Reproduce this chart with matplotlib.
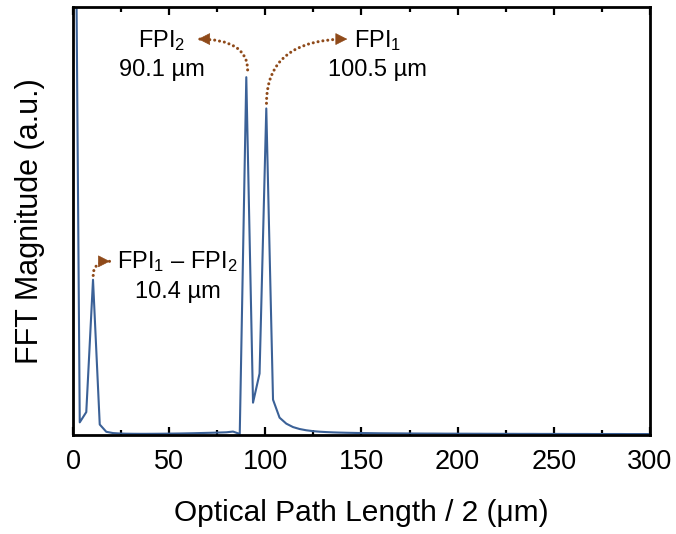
import matplotlib
matplotlib.use("Agg")
import matplotlib.pyplot as plt
from matplotlib.ticker import MultipleLocator

plt.rcParams["font.family"] = ["Liberation Sans", "DejaVu Sans"]
plt.rcParams["mathtext.fontset"] = "custom"
plt.rcParams["mathtext.rm"] = "Liberation Sans"
plt.rcParams["mathtext.it"] = "Liberation Sans:italic"

# FFT bins (optical path length / 2, um)
opl = [0.0, 3.5, 6.9, 10.4, 13.9, 17.3, 20.8, 24.3, 27.7, 31.2,
       34.7, 38.1, 41.6, 45.1, 48.5, 52.0, 55.5, 58.9, 62.4, 65.9,
       69.3, 72.8, 76.3, 79.7, 83.2, 86.7, 90.1, 93.6, 97.0, 100.5,
       104.0, 107.4, 110.9, 114.4, 117.8, 121.3, 124.8, 128.2, 131.7, 135.2,
       138.6, 142.1, 145.6, 149.0, 152.5, 156.0, 159.4, 162.9, 166.4, 169.8,
       173.3, 176.8, 180.2, 183.7, 187.2, 190.6, 194.1, 197.6, 201.0, 204.5,
       208.0, 211.4, 214.9, 218.4, 221.8, 225.3, 228.8, 232.2, 235.7, 239.2,
       242.6, 246.1, 249.6, 253.0, 256.5, 260.0, 263.4, 266.9, 270.4, 273.8,
       277.3, 280.8, 284.2, 287.7, 291.2, 294.6, 298.1, 301.5]

magnitude = [2.1, 0.030, 0.054, 0.363, 0.025, 0.008, 0.005, 0.004, 0.0035, 0.0033,
             0.0032, 0.0032, 0.0033, 0.0034, 0.0036, 0.0038, 0.004, 0.0043, 0.0046, 0.005,
             0.0054, 0.0058, 0.0063, 0.0068, 0.0085, 0.003, 0.836, 0.076, 0.144, 0.763,
             0.083, 0.041, 0.027, 0.019, 0.0145, 0.0115, 0.0095, 0.0082, 0.0073, 0.0066,
             0.0061, 0.0057, 0.0054, 0.0051, 0.0049, 0.0047, 0.0045, 0.0044, 0.0043, 0.0042,
             0.0041, 0.004, 0.0039, 0.0038, 0.0038, 0.0037, 0.0036, 0.0036, 0.0035, 0.0035,
             0.0034, 0.0034, 0.0033, 0.0033, 0.0032, 0.0032, 0.0032, 0.0031, 0.0031, 0.0031,
             0.003, 0.003, 0.003, 0.003, 0.0029, 0.0029, 0.0029, 0.0029, 0.0028, 0.0028,
             0.0028, 0.0028, 0.0028, 0.0027, 0.0027, 0.0027, 0.0027, 0.0027]

line_color = "#3b6197"
arrow_color = "#8f4a1a"

fig = plt.figure(figsize=(6.76, 5.34), dpi=100)
ax = fig.add_axes([0.108, 0.185, 0.8535, 0.802])

ax.plot(opl, magnitude, color=line_color, lw=1.5)

ax.set_xlim(0, 300)
ax.set_ylim(0, 1.0)
ax.xaxis.set_major_locator(MultipleLocator(50))
ax.xaxis.set_minor_locator(MultipleLocator(25))
ax.set_yticks([])
ax.tick_params(axis="x", which="both", direction="in", top=True, width=1.6,
               labelsize=19.5, pad=10)
ax.tick_params(axis="x", which="major", length=6)
ax.tick_params(axis="x", which="minor", length=3.5)
for sp in ax.spines.values():
    sp.set_linewidth(2)

ax.set_xlabel("Optical Path Length / 2 (\u03bcm)", fontsize=21.5, labelpad=17)
ax.set_ylabel("FFT Magnitude (a.u.)", fontsize=22, labelpad=20)

# peak labels
fs = 17
ax.text(46.2, 0.922, "FPI$_\\mathregular{2}$", fontsize=fs, ha="center", va="center")
ax.text(46.2, 0.853, "90.1 \u00b5m", fontsize=fs, ha="center", va="center")
ax.text(158.5, 0.922, "FPI$_\\mathregular{1}$", fontsize=fs, ha="center", va="center")
ax.text(158.5, 0.853, "100.5 \u00b5m", fontsize=fs, ha="center", va="center")
ax.text(54.3, 0.4045, "FPI$_\\mathregular{1}$ \u2013 FPI$_\\mathregular{2}$", fontsize=fs,
        ha="center", va="center")
ax.text(54.3, 0.334, "10.4 \u00b5m", fontsize=fs, ha="center", va="center")

# dotted curved arrows: dotted curve plus a solid head at the end
curve_kw = dict(arrowstyle="-", color=arrow_color, lw=2.2,
                linestyle=(0, (0.01, 1.6)), capstyle="round",
                connectionstyle="angle3,angleA=90,angleB=0",
                shrinkA=0, shrinkB=0)
head_kw = dict(arrowstyle="-|>,head_length=0.55,head_width=0.28", color=arrow_color,
               lw=0.5, shrinkA=0, shrinkB=0, mutation_scale=14)
arrows = [((65.1, 0.925), (90.8, 0.853), -1),
          ((142.6, 0.925), (100.6, 0.775), 1),
          ((19.2, 0.406), (10.5, 0.373), 1)]
for end, start, sign in arrows:
    ax.annotate("", xy=end, xytext=start, arrowprops=curve_kw)
    ax.annotate("", xy=end, xytext=(end[0] - sign * 1.5, end[1]), arrowprops=head_kw)

fig.savefig("out.png", dpi=100)
